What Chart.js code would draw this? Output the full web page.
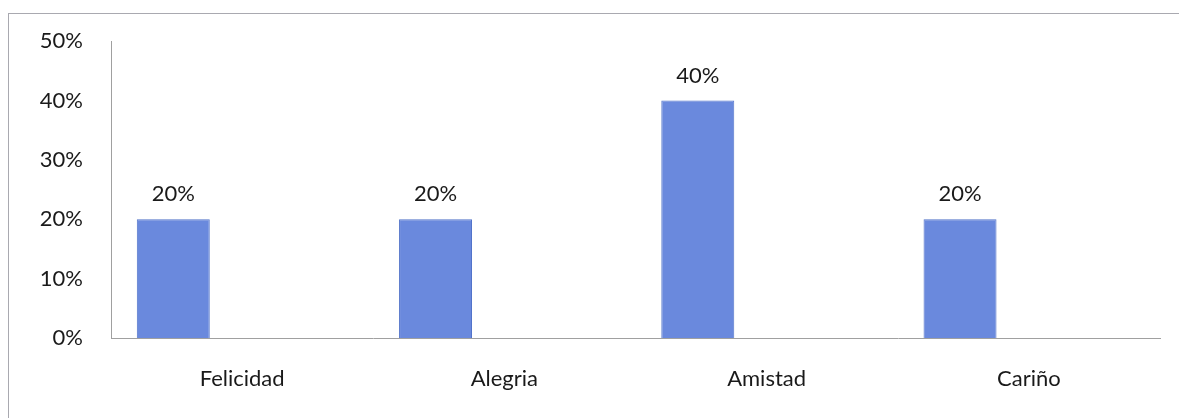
<!DOCTYPE html>
<html>
<head>
<meta charset="utf-8">
<script src="https://cdn.jsdelivr.net/npm/chart.js@4"></script>
<style>
  html, body { margin: 0; padding: 0; background: #fff; }
  #wrap { position: relative; width: 1179px; height: 418px; overflow: hidden; }
  #frame { position: absolute; left: 8px; top: 13px; width: 1200px; height: 440px; border: 1px solid #a9a9b0; }
  canvas { position: absolute; left: 0; top: 0; }
</style>
</head>
<body>
<div id="wrap">
  <div id="frame"></div>
  <canvas id="chart" width="1179" height="418"></canvas>
</div>
<script>
// datos
const categorias = ['Felicidad', 'Alegria', 'Amistad', 'Cariño'];
const porcentajes = [20, 20, 40, 20];
const serieVacia = [null, null, null, null];
const ticksY = [0, 10, 20, 30, 40, 50];

const textColor = '#1a1a1a';
const fontFamily = 'Lato, "Open Sans", sans-serif';

// etiquetas encima de las barras
const etiquetasBarras = {
    id: 'etiquetasBarras',
    afterDatasetsDraw(chart) {
        const ctx = chart.ctx;
        const meta = chart.getDatasetMeta(0);
        ctx.save();
        ctx.fillStyle = textColor;
        ctx.font = '22px ' + fontFamily;
        ctx.textAlign = 'center';
        ctx.textBaseline = 'alphabetic';
        meta.data.forEach(function(bar, i) {
            ctx.fillText(porcentajes[i] + '%', bar.x, bar.y - 18);
        });
        ctx.restore();
    }
};

new Chart(document.getElementById('chart'), {
    type: 'bar',
    data: {
        labels: categorias,
        datasets: [{
            label: 'Porcentaje',
            data: porcentajes,
            backgroundColor: '#6a89dd',
            borderColor: '#5273c9',
            borderWidth: 1,
            categoryPercentage: 1.05,
            barPercentage: 0.53
        }, {
            label: '',
            data: serieVacia,
            categoryPercentage: 1.05,
            barPercentage: 0.53
        }]
    },
    options: {
        responsive: false,
        animation: false,
        layout: { padding: { left: 0, right: 19, top: 34, bottom: 26 } },
        plugins: {
            legend: { display: false },
            tooltip: { enabled: false }
        },
        scales: {
            x: {
                afterFit: function(scale) { scale.height = 54; },
                grid: { display: false, drawTicks: false },
                border: { color: '#a0a0a0', width: 1 },
                ticks: { color: textColor, font: { size: 22, family: fontFamily }, padding: 28, maxRotation: 0 }
            },
            y: {
                min: 0,
                max: 50,
                afterFit: function(scale) { scale.width = 111; },
                afterBuildTicks: function(scale) { scale.ticks = ticksY.map(v => ({ value: v })); },
                grid: { display: false, drawTicks: false },
                border: { color: '#a0a0a0', width: 1 },
                ticks: {
                    color: textColor,
                    font: { size: 22, family: fontFamily },
                    padding: 28,
                    callback: v => v + '%'
                }
            }
        }
    },
    plugins: [etiquetasBarras]
});
</script>
</body>
</html>
